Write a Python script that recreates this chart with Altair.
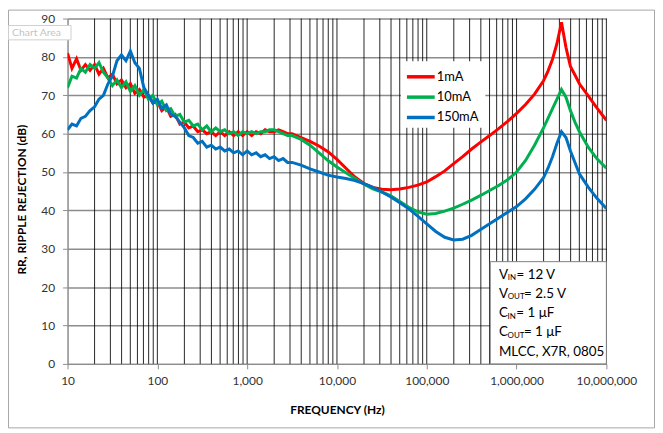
import altair as alt
import pandas as pd

# ---------------- data ----------------
freq = [10, 11.2, 12.6, 14.1, 15.8, 17.8, 20, 22.4, 25.1, 28.2,
        31.6, 35.5, 39.8, 44.7, 50.1, 56.2, 63.1, 70.8, 79.4, 89.1,
        100, 112, 126, 141, 158, 178, 200, 224, 251, 282,
        316, 355, 398, 447, 501, 562, 631, 708, 794, 891,
        1000, 1122, 1259, 1413, 1585, 1778, 1995, 2239, 2512, 2818,
        3162,
        3981, 5012, 6310, 7943, 10000, 12589, 15849, 19953, 25119, 31623,
        39811, 50119, 63096, 79433, 100000, 125893, 158489, 199526, 251189, 316228,
        398107, 501187, 630957, 794328, 1000000, 1258925, 1584893, 1995262,
        2238721, 2511886, 2818383, 3162278, 3548134, 3981072, 4466836, 5011872,
        6309573, 7943282, 10000000]

rr_1mA = [81, 77, 79.5, 76.5, 78, 76.5, 78, 75.5, 77, 74.5,
          75.5, 73, 74, 72, 73, 70.5, 71.5, 69.5, 70, 68,
          68.5, 66, 67, 64.5, 65, 62.5, 63, 61.5, 62, 60.5,
          61, 60, 60.5, 59.5, 60.5, 59.5, 60.5, 59.5, 60.5, 59.5,
          60.5, 59.5, 60.5, 60, 61, 60.5, 60.5, 61, 60.5, 60,
          60,
          59, 58, 56.8, 55.3, 53.3, 51, 48.7, 47, 46, 45.5,
          45.4, 45.6, 46, 46.6, 47.4, 48.8, 50.3, 52.2, 54, 56,
          57.8, 59.5, 61.3, 63.2, 65.3, 67.6, 70.3, 73.8,
          76.3, 79.4, 83.5, 89, 82.5, 77.5, 75.3, 73,
          69.8, 66.5, 63.5]

rr_10mA = [72, 75, 74.5, 77, 76, 78, 77, 78.5, 76, 74.5,
           72.5, 74, 72, 73.5, 71, 72.5, 70, 71.5, 69, 70,
           67.5, 68.5, 66, 66.5, 64.5, 65, 63, 63.5, 62, 62.5,
           61, 62, 60.5, 61.5, 60.5, 61, 60, 60.5, 59.5, 60.5,
           60, 60.5, 60, 60.5, 60.5, 61, 61, 60.5, 60, 59.5,
           59.5,
           58.5, 57, 55, 53, 51.3, 49.8, 48.3, 46.8, 45.6, 44.8,
           43.8, 42.3, 40.8, 39.6, 39, 39.2, 39.8, 40.6, 41.6, 42.7,
           43.9, 45.2, 46.5, 48, 50, 53, 57, 61.5,
           64, 66.5, 69, 71.5, 69.5, 66, 63, 60.5,
           56.4, 53.3, 51]

rr_150mA = [61, 62.5, 62, 64, 64.5, 66, 67, 69, 70, 73,
            75, 79, 80.5, 79, 81.5, 78.5, 77, 72, 70, 68,
            69, 66.5, 67.5, 65, 64.5, 63, 61.5, 59.5, 59, 57.5,
            58, 56.5, 57, 56, 56.5, 55.5, 56, 55, 55.5, 54.5,
            55.5, 54.5, 55, 54, 54.5, 53.5, 54, 53, 53.5, 52.5,
            52.5,
            51.8, 50.8, 50, 49.2, 48.7, 48.3, 47.8, 47, 46, 44.8,
            43.5, 42, 40.4, 38.5, 36.5, 34.5, 33, 32.3, 32.5, 33.5,
            35, 36.5, 38, 39.5, 41, 43, 45.5, 48.5,
            51, 54, 57.5, 60.5, 59, 55.5, 52.5, 49.5,
            46, 43, 40.5]

series = ["1mA", "10mA", "150mA"]
colors = ["#FF0000", "#00B050", "#0070C0"]

x_ticks = [10, 100, 1000, 10000, 100000, 1000000, 10000000]
y_ticks = [0, 10, 20, 30, 40, 50, 60, 70, 80, 90]
minor_mult = [2, 3, 4, 5, 6, 7, 8, 9, 10]

note_main = ["V", "V", "C", "C", "MLCC, X7R, 0805"]
note_sub = ["IN", "OUT", "IN", "OUT", ""]
note_rest = ["=\u00a012\u00a0V", "=\u00a02.5\u00a0V", "=\u00a01\u00a0\u03bcF", "=\u00a01\u00a0\u03bcF", ""]

# ---------------- layout ----------------
W, H = 543, 348
PAD = {"left": 60, "top": 9, "right": 49, "bottom": 65}
FONT = "Lato"

rows = []
for name, vals in zip(series, [rr_1mA, rr_10mA, rr_150mA]):
    for f, v in zip(freq, vals):
        rows.append({"freq": f, "rr": v, "series": name})
df = pd.DataFrame(rows)

grid_freqs = [m * d for d in x_ticks[:-1] for m in minor_mult]
grid_df = pd.DataFrame({"freq": grid_freqs})

x_scale = alt.Scale(type="log", domain=[10, 10000000], nice=False)
y_scale = alt.Scale(domain=[0, 90], nice=False)
color_scale = alt.Scale(domain=series, range=colors)

x_axis = alt.Axis(values=x_ticks, format=",", title="FREQUENCY (Hz)", grid=False,
                  tickSize=5, labelPadding=7, titlePadding=18, labelFontSize=12,
                  titleFontSize=12, titleFontWeight="bold", labelFlush=False)
y_axis = alt.Axis(values=y_ticks, title="RR, RIPPLE REJECTION (dB)", grid=True,
                  tickSize=5, labelPadding=8, titlePadding=12, labelFontSize=12,
                  titleFontSize=12, titleFontWeight="bold", titleY=182)

one = pd.DataFrame({"k": [0]})

frame = alt.Chart(one).mark_rect(fillOpacity=0, stroke="#a6a6a6", strokeWidth=1, clip=False).encode(
    x=alt.value(-PAD["left"] + 0.5), x2=alt.value(W + PAD["right"] - 0.5),
    y=alt.value(-PAD["top"] + 0.5), y2=alt.value(H + PAD["bottom"] - 0.5))

vgrid = alt.Chart(grid_df).mark_rule(color="#000000", strokeWidth=1, opacity=0.85).encode(
    x=alt.X("freq:Q", scale=x_scale, axis=x_axis),
    y=alt.value(0), y2=alt.value(H))

lines = alt.Chart(df).mark_line(strokeWidth=3, clip=True).encode(
    x=alt.X("freq:Q", scale=x_scale, axis=x_axis),
    y=alt.Y("rr:Q", scale=y_scale, axis=y_axis),
    color=alt.Color("series:N", scale=color_scale, legend=None),
    order=alt.Order("freq:Q"))

# legend (drawn manually so that rows sit close together)
leg_df = pd.DataFrame({"series": series, "row": [0, 1, 2]})
leg_bg = alt.Chart(one).mark_rect(fill="white").encode(
    x=alt.value(336), x2=alt.value(421), y=alt.value(43), y2=alt.value(110))
leg_base = alt.Chart(leg_df).transform_calculate(py="58.7 + 20.5 * datum.row")
leg_lines = leg_base.mark_rule(strokeWidth=3.5).encode(
    x=alt.value(342), x2=alt.value(370),
    y=alt.Y("py:Q", scale=None),
    color=alt.Color("series:N", scale=color_scale, legend=None))
leg_text = leg_base.mark_text(align="left", baseline="middle", fontSize=13, font=FONT, color="#000").encode(
    x=alt.value(372), y=alt.Y("py:Q", scale=None), text="series:N")

# annotation box
note_box = alt.Chart(one).mark_rect(fill="white", stroke="#7f7f7f", strokeWidth=1).encode(
    x=alt.value(426), x2=alt.value(W), y=alt.value(245), y2=alt.value(H))

main_w = {"V": 8.9, "C": 8.7}
sub_w = {"IN": 8.8, "OUT": 16.5, "": 0}
note_rows = []
for i, (m, s, r) in enumerate(zip(note_main, note_sub, note_rest)):
    x0 = 434.7
    xs = x0 + main_w.get(m, 0)
    xr = xs + sub_w[s]
    yb = 262 + 19.4 * i
    note_rows.append({"main": m, "sub": s, "rest": r, "x0": x0, "xs": xs, "xr": xr, "yb": yb, "ys": yb + 1.5})
note_df = pd.DataFrame(note_rows)
nb = alt.Chart(note_df)
note_main_t = nb.mark_text(align="left", baseline="alphabetic", fontSize=13.5, font=FONT, color="#000").encode(
    x=alt.X("x0:Q", scale=None), y=alt.Y("yb:Q", scale=None), text="main:N")
note_sub_t = nb.mark_text(align="left", baseline="alphabetic", fontSize=8, font=FONT, color="#000").encode(
    x=alt.X("xs:Q", scale=None), y=alt.Y("ys:Q", scale=None), text="sub:N")
note_rest_t = nb.mark_text(align="left", baseline="alphabetic", fontSize=13.5, font=FONT, color="#000").encode(
    x=alt.X("xr:Q", scale=None), y=alt.Y("yb:Q", scale=None), text="rest:N")

# Excel hover tag
tag_df = pd.DataFrame({"t": ["Chart Area"]})
tag_box = alt.Chart(one).mark_rect(fill="white", stroke="#d0d0d0", strokeWidth=1, clip=False).encode(
    x=alt.value(-59.5), x2=alt.value(3.5), y=alt.value(7), y2=alt.value(21.5))
tag_text = alt.Chart(tag_df).mark_text(align="left", baseline="middle", fontSize=10.5, font=FONT,
                                       color="#c4c4c4").encode(
    x=alt.value(-56), y=alt.value(14.5), text="t:N")

chart = alt.layer(
    frame, vgrid, lines, leg_bg, leg_lines, leg_text,
    note_box, note_main_t, note_sub_t, note_rest_t, tag_box, tag_text
).properties(
    width=W, height=H,
    autosize=alt.AutoSizeParams(type="none"),
    padding=PAD,
    background="white",
).configure_view(stroke=None).configure_axis(
    labelFont=FONT, titleFont=FONT, labelColor="#333333", titleColor="#000000",
    domainColor="#8c8c8c", domainWidth=1.5, tickColor="#8c8c8c", tickWidth=1,
    gridColor="#8c8c8c", gridWidth=1.5, gridOpacity=1,
).configure_text(font=FONT)

chart.save("out.html", embed_options={"renderer": "svg", "actions": False})
